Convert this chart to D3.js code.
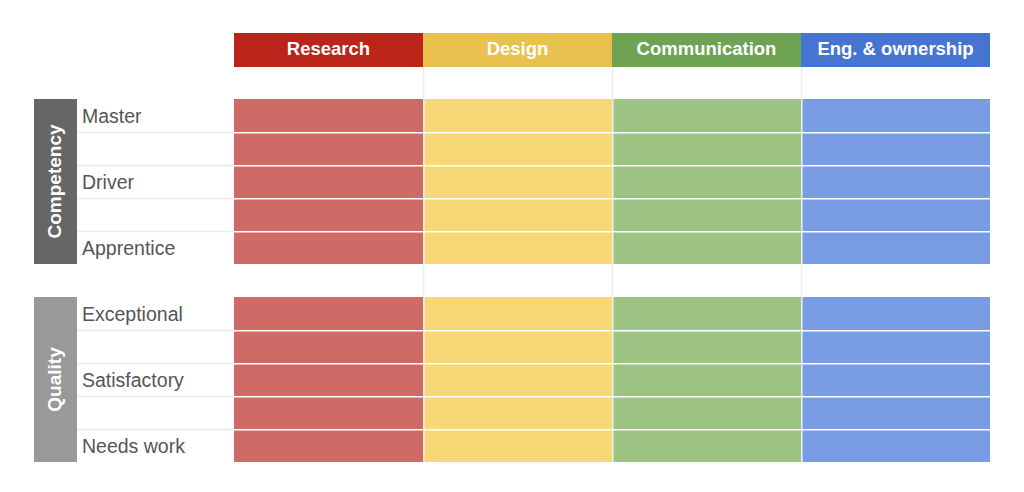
<!DOCTYPE html>
<html><head><meta charset="utf-8">
<script src="https://cdn.jsdelivr.net/npm/d3@7"></script>
<style>html,body{margin:0;padding:0;background:#fff;}svg{display:block;}</style>
</head><body>
<svg id="chart" width="1024" height="492"></svg>
<script>
const columns = ["Research", "Design", "Communication", "Eng. & ownership"];
const headerColors = ["#BB2418", "#E8C14F", "#6FA354", "#4674D1"];
const cellColors = ["#D06A67", "#F8D777", "#9CC284", "#779CE3"];
const groups = ["Competency", "Quality"];
const groupColors = ["#666666", "#999999"];
const competencyLevels = ["Master", "", "Driver", "", "Apprentice"];
const qualityLevels = ["Exceptional", "", "Satisfactory", "", "Needs work"];

const levelsByGroup = [competencyLevels, qualityLevels];
const rowKeys = ["header", "gap0"];
levelsByGroup.forEach((lv, g) => {
  lv.forEach((_, i) => rowKeys.push(`g${g}r${i}`));
  if (g === 0) rowKeys.push("gap1");
});

const svg = d3.select("#chart");
const x = d3.scaleBand().domain(columns).range([234, 990]);
const y = d3.scaleBand().domain(rowKeys).range([33, 33 + rowKeys.length * 33]);
const bw = x.bandwidth(), bh = y.bandwidth();
const font = "'Liberation Sans', Arial, sans-serif";

// vertical grid lines between columns
svg.append("g").selectAll("line").data(columns.slice(1)).join("line")
  .attr("x1", d => x(d) + 0.5).attr("x2", d => x(d) + 0.5)
  .attr("y1", y("header") + bh).attr("y2", y.range()[1])
  .attr("stroke", "#ececec").attr("stroke-width", 1.5);

// headers
const hdr = svg.append("g");
hdr.selectAll("rect").data(columns).join("rect")
  .attr("x", d => x(d)).attr("y", y("header"))
  .attr("width", bw).attr("height", bh + 1)
  .attr("fill", (d, i) => headerColors[i]);
hdr.selectAll("text").data(columns).join("text")
  .attr("x", d => x(d) + bw / 2).attr("y", y("header") + bh / 2 + 0.5)
  .attr("text-anchor", "middle").attr("dominant-baseline", "middle")
  .attr("fill", "#fff").attr("font-family", font).attr("font-weight", "bold")
  .attr("font-size", 18.5).text(d => d);

// groups
levelsByGroup.forEach((levels, g) => {
  const keys = levels.map((_, i) => `g${g}r${i}`);
  const top = y(keys[0]), bottom = y(keys[keys.length - 1]) + bh;
  const gg = svg.append("g");
  // cells
  columns.forEach((c, ci) => {
    gg.append("g").selectAll("rect").data(keys).join("rect")
      .attr("x", x(c) + (ci > 0 ? 1.5 : 0))
      .attr("y", (k, i) => y(k) + (i > 0 ? 1.5 : 0))
      .attr("width", bw - (ci > 0 ? 1.5 : 0))
      .attr("height", (k, i) => bh - (i > 0 ? 1.5 : 0))
      .attr("fill", cellColors[ci]);
  });
  // group box
  gg.append("rect").attr("x", 34).attr("y", top).attr("width", 43)
    .attr("height", bottom - top).attr("fill", groupColors[g]);
  gg.append("text")
    .attr("transform", `translate(56,${(top + bottom) / 2}) rotate(-90)`)
    .attr("text-anchor", "middle").attr("dominant-baseline", "middle")
    .attr("fill", "#fff").attr("font-family", font).attr("font-weight", "bold")
    .attr("font-size", 19).text(groups[g]);
  // row separators in label area
  gg.append("g").selectAll("line").data(keys.slice(1)).join("line")
    .attr("x1", 77).attr("x2", 234)
    .attr("y1", k => y(k) + 0.5).attr("y2", k => y(k) + 0.5)
    .attr("stroke", "#eaeaea").attr("stroke-width", 1.5);
  // row labels
  gg.append("g").selectAll("text").data(keys).join("text")
    .attr("x", 82).attr("y", k => y(k) + bh / 2 + 2.5)
    .attr("dominant-baseline", "middle")
    .attr("fill", "#555").attr("font-family", font).attr("font-size", 19.5)
    .text((k, i) => levels[i]);
});
</script>
</body></html>
